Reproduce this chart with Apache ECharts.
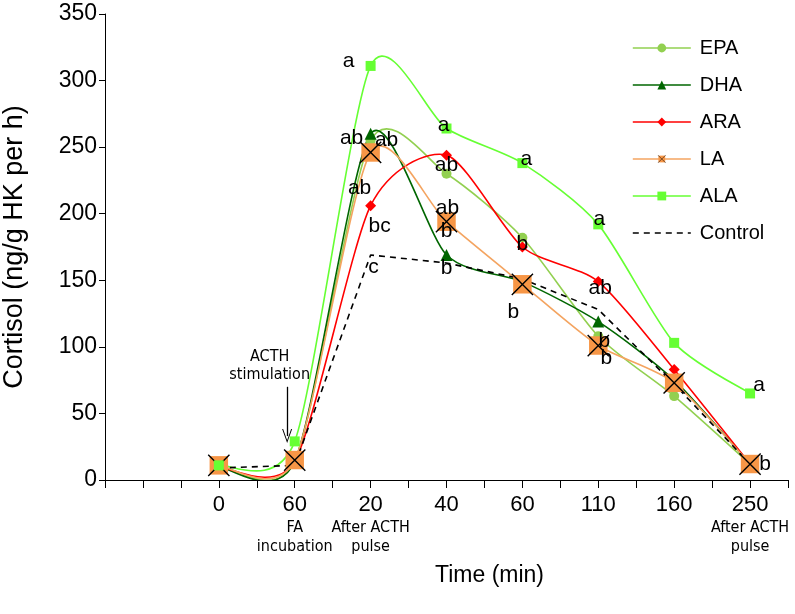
<!DOCTYPE html>
<html><head><meta charset="utf-8">
<script src="https://cdn.jsdelivr.net/npm/echarts@6/dist/echarts.min.js"></script>
<style>html,body{margin:0;padding:0;background:#fff}#c{width:795px;height:614px}</style>
</head><body><div id="c"></div>
<script>
// ---- data ----
const categories = ['0', '60', '20', '40', '60', '110', '160', '250'];
const subLabels = ['', 'FA\nincubation', 'After ACTH\npulse', '', '', '', '', 'After ACTH\npulse'];
const yTicks = [0, 50, 100, 150, 200, 250, 300, 350];

const epa     = [11, 14, 255, 230, 182, 108, 63, 12];
const dha     = [10, 14, 260, 169, 149, 119, 75, 12];
const ara     = [10, 14, 206, 244, 175, 149, 83, 12];
const la      = [11, 15, 246, 194, 147, 101, 73, 12];
const ala     = [11, 29, 311, 264, 238, 192, 103, 65];
const control = [9, 11, 169, 163, 151, 128, 72, 12];

const epaLetters     = ['', '', 'ab', 'ab', '', '', '', ''];
const dhaLetters     = ['', '', 'ab', 'b', '', 'b', '', ''];
const araLetters     = ['', '', 'bc', 'ab', 'b', 'ab', '', ''];
const laLetters      = ['', '', 'ab', 'b', 'b', 'b', '', 'b'];
const alaLetters     = ['', '', 'a', 'a', 'a', 'a', '', 'a'];
const controlLetters = ['', '', 'c', '', '', '', '', ''];

// ---- label placement (style: pixel offsets of the letter centre from the point) ----
const letterOffsets = {
  EPA:     [null, null, [16, 0], [1, 34], null, null, null, null],
  DHA:     [null, null, [-19, 4], [0, 13], null, [6, 20], null, null],
  ARA:     [null, null, [9, 20], [0, 10], [0, -3], [2, 7], null, null],
  LA:      [null, null, [-11, 36], [0, 10], [-9, 28], [8, 13], null, [15, 0]],
  ALA:     [null, null, [-22, -5], [-3, -3], [4, -4], [1, -5], null, [9, -8]],
  Control: [null, null, [3, 12], null, null, null, null, null]
};

const FONT = "'Liberation Sans', Arial, Helvetica, sans-serif";
const NARROW = "'Liberation Sans Narrow', 'DejaVu Sans Condensed', 'Liberation Sans', sans-serif";
const SMOOTH = 1 / 8;

const laSvg = "<svg xmlns='http://www.w3.org/2000/svg' width='26' height='26'><rect x='3' y='3' width='20' height='20' fill='#F79646'/><path d='M1.5,1.5 L24.5,24.5 M24.5,1.5 L1.5,24.5' stroke='#000' stroke-width='1.5'/></svg>";
const laSymbol = 'image://data:image/svg+xml;charset=utf-8,' + encodeURIComponent(laSvg);
const chevron = 'path://M0,14 L5,0 L10,14 L9,14 L5,2.8 L1,14 Z';

function buildData(name, values, letters) {
  return values.map((v, i) => {
    const item = { value: [i, v] };
    if (letters[i]) {
      item.label = {
        show: true, formatter: letters[i], position: 'inside',
        color: '#000', fontSize: 21, fontFamily: FONT,
        textBorderWidth: 0
      };
    }
    return item;
  });
}

function markerSeries(name, values, letters, color, symbol, size, extra) {
  return Object.assign({
    name: name, type: 'line', smooth: false,
    data: buildData(name, values, letters),
    symbol: symbol, symbolSize: size, showSymbol: true,
    lineStyle: { color: color, width: 1.6, opacity: 0 },
    itemStyle: { color: color },
    emphasis: { disabled: true },
    labelLayout: function (p) {
      const off = (letterOffsets[name] || [])[p.dataIndex];
      return off ? { dx: off[0], dy: off[1], hideOverlap: false } : {};
    }
  }, extra || {});
}

// Excel-style smoothed curve, drawn through the axes with api.coord
function curveSeries(name, values, color) {
  return {
    name: name + '-curve', type: 'custom', coordinateSystem: 'cartesian2d',
    silent: true, clip: true,
    data: values.map((v, i) => [i, v]),
    encode: { x: 0, y: 1 },
    renderItem: function (params, api) {
      if (params.dataIndex !== 0) return null;
      const p = values.map((v, i) => api.coord([i, v]));
      let d = 'M' + p[0][0] + ' ' + p[0][1];
      for (let i = 0; i < p.length - 1; i++) {
        const p0 = p[Math.max(i - 1, 0)], p1 = p[i], p2 = p[i + 1], p3 = p[Math.min(i + 2, p.length - 1)];
        const c1 = [p1[0] + (p2[0] - p0[0]) * SMOOTH, p1[1] + (p2[1] - p0[1]) * SMOOTH];
        const c2 = [p2[0] - (p3[0] - p1[0]) * SMOOTH, p2[1] - (p3[1] - p1[1]) * SMOOTH];
        d += ' C' + c1[0] + ' ' + c1[1] + ' ' + c2[0] + ' ' + c2[1] + ' ' + p2[0] + ' ' + p2[1];
      }
      return { type: 'path', shape: { pathData: d }, style: { fill: 'none', stroke: color, lineWidth: 1.6 } };
    }
  };
}

const chart = echarts.init(document.getElementById('c'), null, { renderer: 'canvas' });

const option = {
  animation: false,
  backgroundColor: '#fff',
  textStyle: { fontFamily: FONT },
  grid: { left: 105, right: 7, top: 14, bottom: 134, containLabel: false, outerBoundsMode: 'none' },
  legend: {
    orient: 'vertical', left: 627, top: 33,
    itemWidth: 58, itemHeight: 11, itemGap: 17,
    lineStyle: { opacity: 1, width: 1.6 },
    textStyle: { fontSize: 20, color: '#000', fontFamily: FONT, padding: [0, 0, 0, 4] },
    data: ['EPA', 'DHA', 'ARA', 'LA', 'ALA', 'Control']
  },
  xAxis: {
    type: 'value', min: -1.5, max: 7.5, interval: 0.5,
    name: 'Time (min)', nameLocation: 'middle', nameGap: 84,
    nameTextStyle: { fontSize: 23, color: '#000', fontFamily: FONT, padding: [0, 0, 0, 86] },
    axisLine: { show: true, lineStyle: { color: '#000', width: 1 } },
    axisTick: { show: true, length: 8, lineStyle: { color: '#000' } },
    splitLine: { show: false },
    axisLabel: {
      margin: 12, color: '#000', interval: 0,
      showMinLabel: true, showMaxLabel: true,
      formatter: function (v) {
        const i = Math.round(v);
        if (Math.abs(v - i) > 1e-6 || i < 0 || i >= categories.length) return '';
        let s = '{m|' + categories[i] + '}';
        if (subLabels[i]) s += '\n' + subLabels[i].split('\n').map(t => '{s|' + t + '}').join('\n');
        return s;
      },
      rich: {
        m: { fontSize: 22, lineHeight: 26, color: '#000', fontFamily: FONT },
        s: { fontSize: 16, lineHeight: 19, color: '#000', fontFamily: NARROW }
      }
    }
  },
  yAxis: {
    type: 'value', min: yTicks[0], max: yTicks[yTicks.length - 1], interval: 50,
    name: 'Cortisol (ng/g HK per h)', nameLocation: 'middle', nameGap: 77,
    nameTextStyle: { fontSize: 27, color: '#000', fontFamily: FONT },
    axisLine: { show: true, onZero: false, lineStyle: { color: '#000', width: 1 } },
    axisTick: { show: true, length: 6, lineStyle: { color: '#000' } },
    splitLine: { show: false },
    axisLabel: { margin: 8, color: '#000', fontSize: 23, fontFamily: FONT }
  },
  series: [
    curveSeries('EPA', epa, '#92D050'),
    markerSeries('EPA', epa, epaLetters, '#92D050', 'circle', 10),
    curveSeries('DHA', dha, '#006600'),
    markerSeries('DHA', dha, dhaLetters, '#006600', 'triangle', 12),
    curveSeries('ARA', ara, '#FF0000'),
    markerSeries('ARA', ara, araLetters, '#FF0000', 'diamond', 11),
    curveSeries('LA', la, '#F4A460'),
    markerSeries('LA', la, laLetters, '#F4A460', laSymbol, 24, { itemStyle: { color: '#F79646' } }),
    curveSeries('ALA', ala, '#66FF33'),
    markerSeries('ALA', ala, alaLetters, '#66FF33', 'rect', 10, {
      markLine: {
        silent: true, symbol: ['none', chevron], symbolSize: [10, 14],
        lineStyle: { color: '#000', width: 1.3, type: 'solid', opacity: 1 },
        label: { show: false },
        data: [[{ coord: [0.9, 70] }, { coord: [0.9, 33] }]]
      },
      markPoint: {
        silent: true, symbol: 'circle', symbolSize: 1,
        itemStyle: { color: 'rgba(0,0,0,0)' },
        label: { show: true, position: 'inside', formatter: 'ACTH\nstimulation', fontSize: 16, lineHeight: 18, color: '#000', fontFamily: NARROW },
        data: [{ coord: [0.67, 86] }]
      }
    }),
    markerSeries('Control', control, controlLetters, '#000000', 'circle', 1, {
      lineStyle: { color: '#000', width: 1.6, type: [6, 5], opacity: 1 },
      itemStyle: { color: 'rgba(0,0,0,0)', borderWidth: 0 }
    })
  ]
};
chart.setOption(option);
</script>
</body></html>
